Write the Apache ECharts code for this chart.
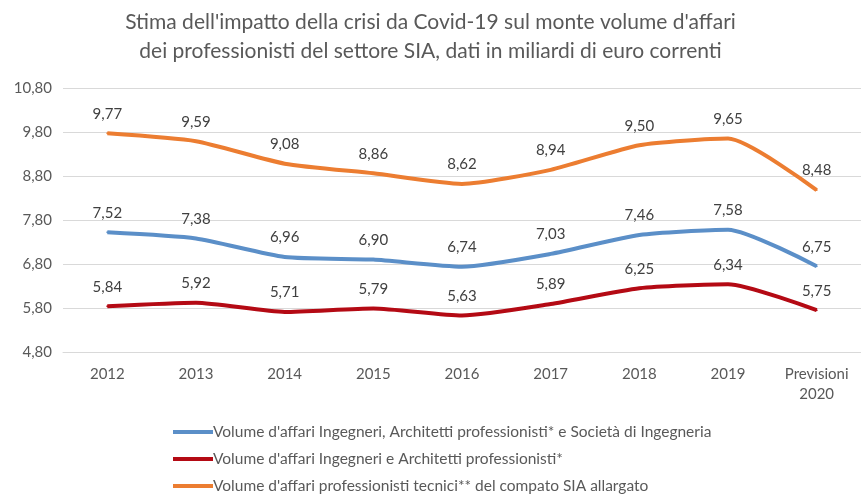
<!DOCTYPE html>
<html><head><meta charset="utf-8">
<script src="https://cdn.jsdelivr.net/npm/echarts@6/dist/echarts.min.js"></script>
<style>html,body{margin:0;padding:0;background:#fff}#c{width:861px;height:503px}</style>
</head><body><div id="c"></div>
<script>
const categories = ['2012','2013','2014','2015','2016','2017','2018','2019','Previsioni\n2020'];
const seriesNames = [
  "Volume d'affari Ingegneri, Architetti professionisti* e Società di Ingegneria",
  "Volume d'affari Ingegneri e Architetti professionisti*",
  "Volume d'affari professionisti tecnici** del compato SIA allargato"
];
const ingArchSoc = [7.52, 7.38, 6.96, 6.90, 6.74, 7.03, 7.46, 7.58, 6.75];
const ingArch = [5.84, 5.92, 5.71, 5.79, 5.63, 5.89, 6.25, 6.34, 5.75];
const tecniciSIA = [9.77, 9.59, 9.08, 8.86, 8.62, 8.94, 9.50, 9.65, 8.48];
const yTicks = [4.8, 5.8, 6.8, 7.8, 8.8, 9.8, 10.8];
const colors = ['#5b8fc8', '#b40a14', '#ec7d31'];
const fmt = v => v.toFixed(2).replace('.', ',');
const FONT = 'Lato';

const chart = echarts.init(document.getElementById('c'), null, {renderer: 'canvas'});
function mk(name, data, color, z) {
  return {
    name, type: 'line', data, z,
    smooth: 0.2, symbol: 'circle', symbolSize: 2, showSymbol: true,
    lineStyle: {color, width: 4},
    itemStyle: {color},
    label: {show: true, position: 'top', distance: 11, color: '#404040',
      fontFamily: FONT, fontSize: 15, formatter: p => fmt(p.value)}
  };
}
chart.setOption({
  animation: false,
  textStyle: {fontFamily: FONT},
  title: {
    text: "Stima dell'impatto della crisi da Covid-19 sul monte volume d'affari\ndei professionisti del settore SIA, dati in miliardi di euro correnti",
    left: 'center', top: 3,
    textStyle: {fontFamily: FONT, fontSize: 21, fontWeight: 'normal', color: '#595959', lineHeight: 29}
  },
  legend: {
    orient: 'vertical', left: 173, top: 424, itemGap: 11, padding: 0,
    icon: 'rect', itemWidth: 40, itemHeight: 4,
    textStyle: {fontFamily: FONT, fontSize: 15.5, color: '#595959', padding: [0,0,0,-5]},
    data: [seriesNames[0], seriesNames[1], seriesNames[2]]
  },
  grid: {left: 63, width: 808, top: 88, bottom: 151, containLabel: false},
  xAxis: {
    type: 'category', data: categories, boundaryGap: true,
    axisLine: {show: true, lineStyle: {color: '#d9d9d9'}},
    axisTick: {show: false},
    axisLabel: {color: '#595959', fontFamily: FONT, fontSize: 15, margin: 12, lineHeight: 20, interval: 0}
  },
  yAxis: {
    type: 'value', min: 4.8, max: 10.8, interval: 1,
    axisLine: {show: false}, axisTick: {show: false},
    splitLine: {lineStyle: {color: '#d9d9d9', width: 1}},
    axisLabel: {color: '#595959', fontFamily: FONT, fontSize: 15, margin: 11,
      formatter: v => fmt(v)}
  },
  series: [
    mk(seriesNames[0], ingArchSoc, colors[0], 3),
    mk(seriesNames[1], ingArch, colors[1], 2),
    mk(seriesNames[2], tecniciSIA, colors[2], 4)
  ]
});
</script></body></html>
